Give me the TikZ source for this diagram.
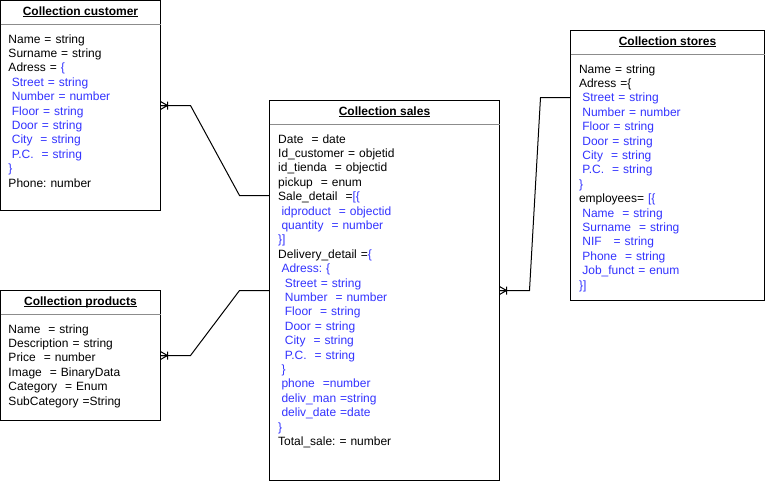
\documentclass[tikz,border=0pt]{standalone}
\usepackage{fontspec}
\setmainfont{Liberation Sans}
\usepackage{xcolor}
\definecolor{bl}{RGB}{51,51,255}
\newcommand\myind{\hspace*{3.34pt}}
\newcommand\myul[1]{\setbox0\hbox{#1}\rlap{\rule[-1.7pt]{\wd0}{0.8pt}}\box0}
\frenchspacing
\begin{document}
\begin{tikzpicture}[x=1pt,y=-1pt,
  line width=1pt,
  box/.style={draw=black, line width=1pt, fill=white, rectangle, inner sep=0pt, outer sep=0pt, anchor=north west},
  sep/.style={draw=black!45, line width=1pt},
  ttl/.style={anchor=base, inner sep=0pt, font=\fontsize{12}{14.4}\selectfont\bfseries},
  txt/.style={anchor=base west, inner sep=0pt, text width=185pt, align=left, font=\fontsize{12}{14.4}\selectfont},
  conn/.style={draw=black, line width=1pt},
  crow/.pic={\draw[line width=1pt] (0,-4) -- (7,0) -- (0,4) (0,0) -- (7,0) (7,-4) -- (7,4);}
]
\useasboundingbox (0,0) rectangle (768,482);

% boxes
\node[box, minimum width=160pt, minimum height=210pt] (cust) at (0.5,0.5) {};
\node[box, minimum width=160pt, minimum height=130pt] (prod) at (0.5,290.5) {};
\node[box, minimum width=230pt, minimum height=380pt] (sales) at (269.5,100.5) {};
\node[box, minimum width=194pt, minimum height=270pt] (stores) at (570.5,30.5) {};

% header separators
\draw[sep] ([yshift=-24pt]cust.north west) -- ([yshift=-24pt]cust.north east);
\draw[sep] ([yshift=-24pt]prod.north west) -- ([yshift=-24pt]prod.north east);
\draw[sep] ([yshift=-24pt]sales.north west) -- ([yshift=-24pt]sales.north east);
\draw[sep] ([yshift=-24pt]stores.north west) -- ([yshift=-24pt]stores.north east);

% titles
\node[ttl] (custT) at (80.5,15) {\myul{Collection customer}};
\node[ttl] (prodT) at (80.5,305) {\myul{Collection products}};
\node[ttl] (salesT) at (384.5,115) {\myul{Collection sales}};
\node[ttl] (storesT) at (667.5,45) {\myul{Collection stores}};

% contents
\node[txt] (custB) at (8,43) {Name = string\\
Surname = string\\
Adress = \textcolor{bl}{\{}\\
\color{bl}\myind Street = string\\
\myind Number = number\\
\myind Floor = string\\
\myind Door = string\\
\myind City~ = string\\
\myind P.C.~ = string\\
\}\\
\color{black}Phone: number};

\node[txt] (prodB) at (8,333) {Name~ = string\\
Description = string\\
Price~ = number\\
Image~ = BinaryData\\
Category~ = Enum\\
SubCategory =String};

\node[txt] (salesB) at (277.7,143) {Date~ = date\\
Id\_customer = objetid\\
id\_tienda~ = objectid\\
pickup~ = enum\\
Sale\_detail~ =\textcolor{bl}{[\{}\\
\color{bl}\myind idproduct~ = objectid\\
\myind quantity~ = number\\
\}]\\
\color{black}Delivery\_detail =\textcolor{bl}{\{}\\
\color{bl}\myind Adress: \{\\
\myind\myind Street = string\\
\myind\myind Number~ = number\\
\myind\myind Floor~ = string\\
\myind\myind Door = string\\
\myind\myind City~ = string\\
\myind\myind P.C.~ = string\\
\myind \}\\
\myind phone~ =number\\
\myind deliv\_man =string\\
\myind deliv\_date =date\\
\}\\
\color{black}Total\_sale: = number};

\node[txt] (storesB) at (578.5,73) {Name = string\\
Adress =\{\\
\color{bl}\myind Street = string\\
\myind Number = number\\
\myind Floor = string\\
\myind Door = string\\
\myind City~ = string\\
\myind P.C.~ = string\\
\}\\
\color{black}employees= \textcolor{bl}{[\{}\\
\color{bl}\myind Name~ = string\\
\myind Surname~ = string\\
\myind NIF~~ = string\\
\myind Phone~ = string\\
\myind Job\_funct = enum\\
\}]};

% connector bend points
\coordinate (a1) at (190.5,105.5);
\coordinate (a2) at (239.5,195.5);
\coordinate (b1) at (190.5,355.5);
\coordinate (b2) at (239.5,290.5);
\coordinate (c1) at (529.5,290.5);
\coordinate (c2) at (540.5,97.5);

\draw[conn] (cust.east) -- (a1) -- (a2) -- (sales.west |- a2);
\draw[conn] (prod.east) -- (b1) -- (b2) -- (sales.west |- b2);
\draw[conn] (sales.east) -- (c1) -- (c2) -- (stores.west |- c2);

\pic at (cust.east) {crow};
\pic at (prod.east) {crow};
\pic at (sales.east) {crow};
\end{tikzpicture}
\end{document}
